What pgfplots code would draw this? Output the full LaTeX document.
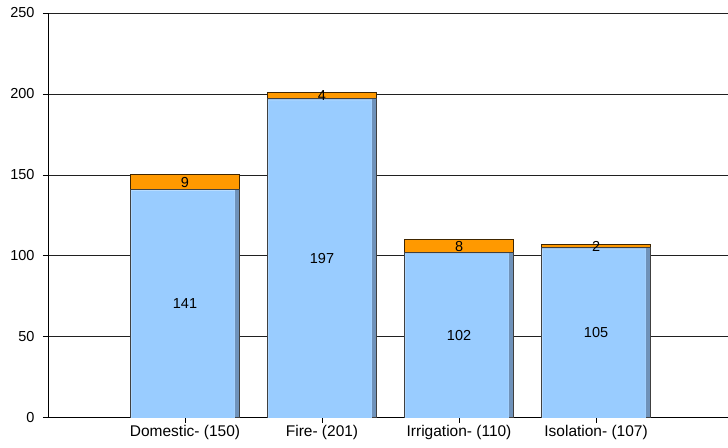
\documentclass[border=0pt]{standalone}
\usepackage{pgfplots}
\pgfplotsset{compat=1.18}
\usepackage{fontspec}
\setmainfont{Liberation Sans}
\definecolor{barblue}{HTML}{99CCFF}
\definecolor{bardark}{HTML}{6F92BA}
\definecolor{barlight}{HTML}{B8DCFF}
\definecolor{barorange}{HTML}{FF9900}
\definecolor{gridc}{HTML}{202020}
\begin{document}
\begin{tikzpicture}
\begin{axis}[
  scale only axis,
  width=680bp, height=405bp,
  xmin=-1, xmax=3.96,
  ymin=0, ymax=250,
  ytick={0,50,100,150,200,250},
  xtick={0,1,2,3},
  xticklabels={Domestic- (150),Fire- (201),Irrigation- (110),Isolation- (107)},
  axis x line*=bottom, axis y line*=left,
  axis line style={black, line width=0.8bp},
  ymajorgrids, grid style={gridc, line width=0.8bp},
  tick align=outside, major tick length=5bp,
  tick style={black, line width=0.8bp},
  yticklabel style={font=\fontsize{14.5bp}{16bp}\selectfont, xshift=-5bp},
  xticklabel style={font=\fontsize{15.5bp}{17bp}\selectfont, yshift=1bp},
  /pgf/number format/assume math mode=true,
  clip=false,
]
\addplot[ybar, bar shift=0pt, bar width=0.8, fill=barorange, draw=black!75!barorange, line width=1bp]
  coordinates {(0,150) (1,201) (2,110) (3,107)};
\addplot[ybar, bar shift=0pt, bar width=0.8, fill=bardark, draw=black!75, line width=1bp]
  coordinates {(0,141) (1,197) (2,102) (3,105)};
\addplot[ybar, bar shift=-0.015, bar width=0.758, fill=barlight, draw=none]
  coordinates {(0,140.6) (1,196.6) (2,101.6) (3,104.6)};
\addplot[ybar, bar shift=-0.0135, bar width=0.751, fill=barblue, draw=none]
  coordinates {(0,140) (1,196) (2,101) (3,104)};
\addplot[only marks, mark=none, nodes near coords, point meta=explicit symbolic,
  every node near coord/.append style={anchor=center, font=\fontsize{14.5bp}{16bp}\selectfont, inner sep=0pt}]
  coordinates {(0,70.5)[141] (1,98.5)[197] (2,51)[102] (3,52.5)[105]
               (0,145.5)[9] (1,199)[4] (2,106)[8] (3,106)[2]};
\end{axis}
\path (-48bp,-30bp) rectangle (680bp,418bp);
\end{tikzpicture}
\end{document}
